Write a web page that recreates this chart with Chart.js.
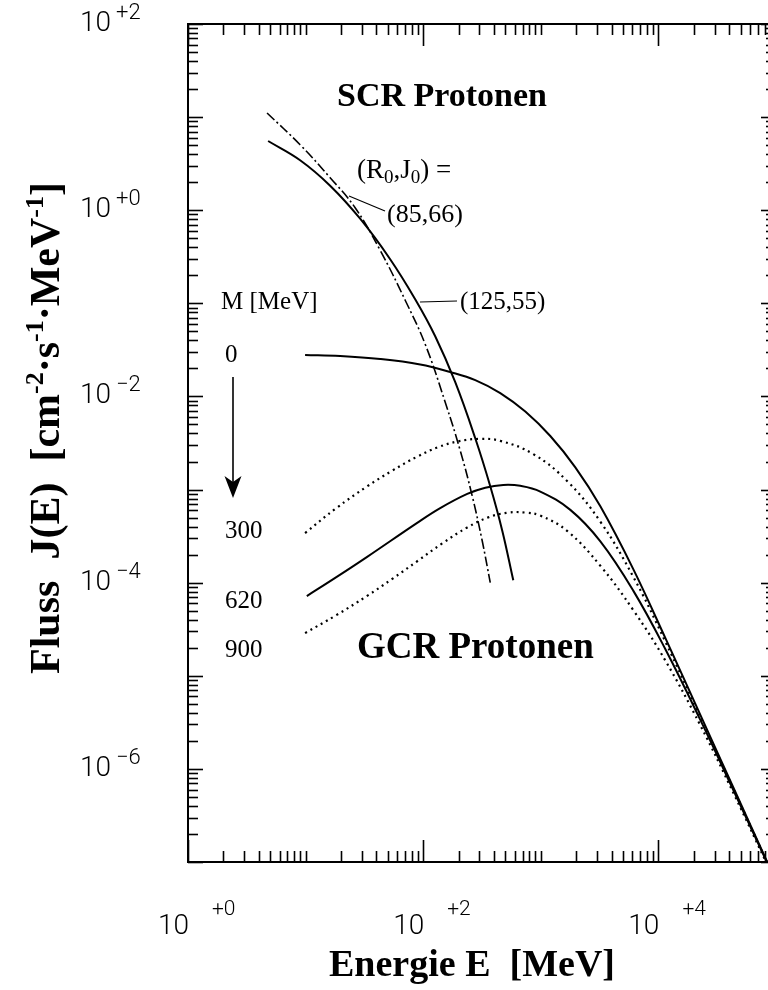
<!DOCTYPE html>
<html><head><meta charset="utf-8">
<script src="https://cdn.jsdelivr.net/npm/chart.js@4"></script>
<style>
html,body{margin:0;padding:0;background:#fff;overflow:hidden;width:768px;height:990px}
#wrap{width:780px;height:990px;position:relative}
canvas{display:block}
</style></head>
<body><div id="wrap"><canvas id="c" width="780" height="990"></canvas></div>
<script>
// Energy E [MeV], flux J(E) pairs
const scr85 = [[4.70,11.07],[8.98,5.05],[16.17,2.235],[26.38,1.064],[43.05,0.3719],[70.28,0.1080],[104.0,0.03636],[153.9,0.008664],[206.5,0.002623],[261.2,8.52e-4],[317.8,2.80e-4],[371.7,1.0e-4]];
const scr125 = [[4.80,5.537],[8.98,3.444],[16.17,1.834],[29.10,0.8101],[52.37,0.2977],[85.48,0.1107],[126.5,0.04432],[187.3,0.01421],[277.1,0.003556],[371.7,0.001085],[470.2,3.62e-4],[583.4,1.06e-4]];
const gcrM0 = [[9.90,0.02784],[19.66,0.02716],[43.06,0.02522],[94.29,0.02202],[169.8,0.01829],[277.1,0.01500],[452.2,0.01088],[738.3,0.006884],[1204,0.003756],[1966,0.001732],[3209,6.60e-4],[6128,1.389e-4],[11470,2.534e-5],[22780,3.773e-6],[44350,5.935e-7],[86340,9.33e-8]];
const gcrM300 = [[9.90,3.410e-4],[18.18,6.296e-4],[33.38,1.082e-3],[54.47,1.595e-3],[88.91,2.256e-3],[134.2,2.853e-3],[198.6,3.293e-3],[305.6,3.502e-3],[452.2,3.334e-3],[863.5,2.405e-3],[1681,1.228e-3],[3209,4.519e-4],[6128,1.151e-4],[11470,2.318e-5],[22780,3.556e-6],[44350,5.747e-7],[86340,9.22e-8]];
const gcrM620 = [[10.24,7.177e-5],[18.54,1.160e-4],[33.38,1.893e-4],[88.91,4.387e-4],[139.5,6.312e-4],[236.8,8.969e-4],[337.1,1.048e-3],[479.7,1.120e-3],[669.1,1.096e-3],[990.2,9.517e-4],[1783,6.052e-4],[3209,2.778e-4],[6128,8.165e-5],[11470,1.925e-5],[22780,3.335e-6],[44350,5.579e-7],[86340,9.15e-8]];
const gcrM900 = [[9.90,2.874e-5],[18.18,4.466e-5],[33.38,7.213e-5],[54.47,1.096e-4],[88.91,1.698e-4],[145.1,2.637e-4],[236.8,3.916e-4],[357.5,5.028e-4],[529.0,5.661e-4],[738.3,5.661e-4],[990.2,5.256e-4],[1681,3.583e-4],[3209,1.519e-4],[6128,5.052e-5],[11470,1.453e-5],[22780,2.925e-6],[44350,5.219e-7],[86340,8.75e-8]];

const modulationLabels = ['0','300','620','900'];
const xLabelExps = [0, 2, 4];
const yLabelExps = [2, 0, -2, -4, -6];
const xRange = [1, 1e5];
const yRange = [1e-7, 100];

const toXY = arr => arr.map(([x, y]) => ({x, y}));
const SERIF = '"Liberation Serif", "Times New Roman", serif';
const SANS = 'Roboto, "Liberation Sans", sans-serif';

function supText(ctx, parts, x, y, size, bold, ratio) {
  let cx = x;
  const r = ratio || 0.62;
  for (const [t, mode] of parts) {
    const fs = mode === 0 ? size : Math.round(size * r);
    ctx.font = (bold ? 'bold ' : '') + fs + 'px ' + SERIF;
    const dy = mode === 1 ? -size * 0.38 : (mode === -1 ? size * 0.2 : 0);
    ctx.fillText(t, cx, y + dy);
    cx += ctx.measureText(t).width;
  }
  return cx - x;
}
function measureParts(ctx, parts, size, bold, ratio) {
  let w = 0;
  const r = ratio || 0.62;
  for (const [t, mode] of parts) {
    const fs = mode === 0 ? size : Math.round(size * r);
    ctx.font = (bold ? 'bold ' : '') + fs + 'px ' + SERIF;
    w += ctx.measureText(t).width;
  }
  return w;
}

const framePlugin = {
  id: 'frame',
  afterDatasetsDraw(chart) {
    const {ctx, chartArea: a, scales: {x, y}} = chart;
    ctx.save();
    ctx.strokeStyle = '#000';
    ctx.fillStyle = '#000';
    ctx.lineWidth = 2;
    ctx.strokeRect(a.left, a.top, a.right - a.left, a.bottom - a.top);
    const seg = (x1, y1, x2, y2) => { ctx.beginPath(); ctx.moveTo(x1, y1); ctx.lineTo(x2, y2); ctx.stroke(); };
    ctx.lineWidth = 1.6;
    for (let d = Math.log10(xRange[0]); d <= Math.log10(xRange[1]); d++) {
      for (let m = 1; m <= 9; m++) {
        const v = m * Math.pow(10, d);
        if (v > xRange[1]) break;
        const px = Math.round(x.getPixelForValue(v)) + 0.5;
        const len = (m === 1 && d % 2 === 0) ? 22 : 11;
        seg(px, a.bottom, px, a.bottom - len);
        seg(px, a.top, px, a.top + len);
      }
    }
    for (let d = Math.log10(yRange[0]); d <= Math.log10(yRange[1]); d++) {
      for (let m = 1; m <= 9; m++) {
        const v = m * Math.pow(10, d);
        if (v > yRange[1]) break;
        const py = Math.round(y.getPixelForValue(v)) + 0.5;
        const len = m === 1 ? 15 : 10;
        seg(a.left, py, a.left + len, py);
        seg(a.right, py, a.right - len, py);
      }
    }
    ctx.textBaseline = 'alphabetic';
    for (const e of yLabelExps) {
      const py = y.getPixelForValue(Math.pow(10, e));
      ctx.font = '300 28px ' + SANS;
      ctx.textAlign = 'right';
      ctx.fillText('10', 111, py + 7);
      ctx.font = '300 22px ' + SANS;
      ctx.textAlign = 'left';
      ctx.fillText((e >= 0 ? '+' : '\u2212') + Math.abs(e), 116, py - 5);
    }
    for (const e of xLabelExps) {
      const px = x.getPixelForValue(Math.pow(10, e));
      ctx.font = '300 28px ' + SANS;
      ctx.textAlign = 'right';
      ctx.fillText('10', px + 1, 934);
      ctx.font = '300 21px ' + SANS;
      ctx.textAlign = 'left';
      ctx.fillText((e >= 0 ? '+' : '\u2212') + Math.abs(e), px + 24, 915);
    }
    ctx.textAlign = 'left';
    const xt = 'Energie E  [MeV]';
    ctx.font = 'bold 38px ' + SERIF;
    const xw = ctx.measureText(xt).width;
    ctx.fillText(xt, 472 - xw / 2, 976);

    const yParts = [['Fluss  J(E)  [cm', 0], ['-2', 1], ['\u00B7s', 0], ['-1', 1], ['\u00B7MeV', 0], ['-1', 1], [']', 0]];
    const ys = 42;
    const yw = measureParts(ctx, yParts, ys, true);
    ctx.save();
    ctx.translate(59, 428);
    ctx.rotate(-Math.PI / 2);
    supText(ctx, yParts, -yw / 2, 0, ys, true);
    ctx.restore();

    ctx.font = 'bold 34px ' + SERIF;
    ctx.fillText('SCR Protonen', 337, 106);
    ctx.font = 'bold 37px ' + SERIF;
    ctx.fillText('GCR Protonen', 357, 658);

    supText(ctx, [['(R', 0], ['0', -1], [',J', 0], ['0', -1], [') =', 0]], 357, 178, 27, false, 0.7);
    ctx.font = '26px ' + SERIF;
    ctx.fillText('(85,66)', 387, 222);
    ctx.font = '25px ' + SERIF;
    ctx.fillText('M [MeV]', 221, 309);
    ctx.fillText('(125,55)', 460, 309);
    const labY = [362, 538, 608, 657];
    modulationLabels.forEach((t, i) => ctx.fillText(t, 225, labY[i]));

    ctx.lineWidth = 1.2;
    seg(349, 196, 385, 211);
    seg(420, 302, 457, 301);
    ctx.lineWidth = 1.6;
    seg(233, 377, 233, 485);
    ctx.beginPath();
    ctx.moveTo(233, 498); ctx.lineTo(224.5, 476); ctx.lineTo(233, 482); ctx.lineTo(241.5, 476); ctx.closePath();
    ctx.fill();
    ctx.restore();
  }
};

const base = {pointRadius: 0, borderColor: '#000', fill: false, tension: 0.4};
new Chart(document.getElementById('c'), {
  type: 'line',
  data: {
    datasets: [
      {...base, label: '(85,66)', data: toXY(scr85), borderWidth: 1.6, borderDash: [10, 3, 2, 3]},
      {...base, label: '(125,55)', data: toXY(scr125), borderWidth: 2},
      {...base, label: 'M=0', data: toXY(gcrM0), borderWidth: 2},
      {...base, label: 'M=300', data: toXY(gcrM300), borderWidth: 2.2, borderDash: [2, 4]},
      {...base, label: 'M=620', data: toXY(gcrM620), borderWidth: 2},
      {...base, label: 'M=900', data: toXY(gcrM900), borderWidth: 2.2, borderDash: [2, 4]}
    ]
  },
  options: {
    responsive: false,
    animation: false,
    devicePixelRatio: 1,
    events: [],
    layout: {padding: {left: 188, top: 24, right: 4, bottom: 128}},
    plugins: {legend: {display: false}, tooltip: {enabled: false}},
    scales: {
      x: {type: 'logarithmic', min: xRange[0], max: xRange[1], display: false},
      y: {type: 'logarithmic', min: yRange[0], max: yRange[1], display: false}
    }
  },
  plugins: [framePlugin]
});
</script>
</body></html>
